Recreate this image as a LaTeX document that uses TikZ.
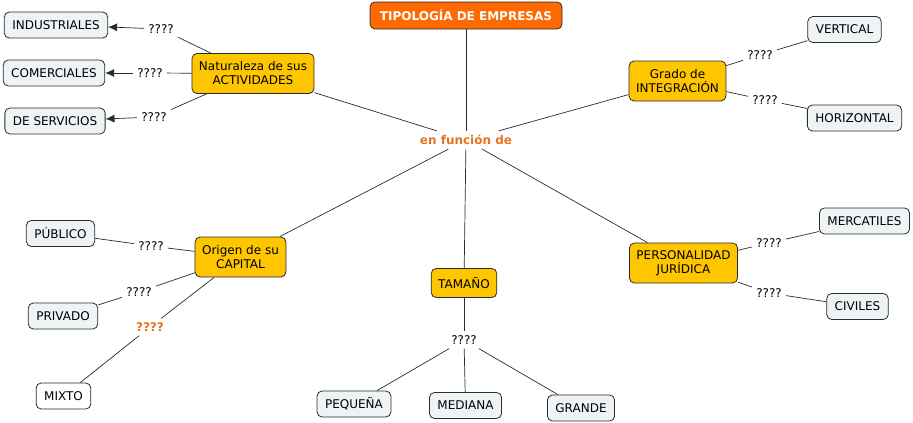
\documentclass[tikz,border=0pt]{standalone}
\usepackage{fontspec}
\setmainfont{DejaVu Sans}
\usetikzlibrary{arrows.meta}
\definecolor{cmorange}{HTML}{FF6A00}
\definecolor{cmgold}{HTML}{FFC600}
\definecolor{cmleaf}{HTML}{EEF3F5}
\definecolor{cmtext}{HTML}{E8731E}
\definecolor{cmedge}{HTML}{2B2B2B}

\tikzset{
  cmfont/.style={font=\fontsize{12}{14}\selectfont},
  topbox/.style={draw=cmedge, line width=0.8pt, fill=cmorange, rounded corners=5pt, text=white, font=\fontsize{12}{14}\selectfont\bfseries, minimum width=192pt, minimum height=27pt, inner sep=2pt},
  conbox/.style={draw=cmedge, line width=0.8pt, fill=cmgold, rounded corners=5pt, cmfont, align=center, inner xsep=7pt, inner ysep=3pt, minimum height=29pt},
  twoline/.style={minimum height=40pt},
  leafbox/.style={draw=cmedge, line width=0.8pt, fill=cmleaf, rounded corners=5pt, cmfont, inner xsep=8pt, minimum height=26pt},
  linkword/.style={cmfont, inner sep=4pt},
  hotword/.style={font=\fontsize{12}{14}\selectfont\bfseries, text=cmtext, inner sep=4pt},
  link/.style={draw=cmedge, line width=0.7pt},
  linkarrow/.style={link, -{Latex[length=9pt, width=8pt]}},
}

\begin{document}
\begin{tikzpicture}[x=1pt, y=-1pt]
  \useasboundingbox (0,0) rectangle (913,423);

  % central concept
  \node[topbox] (tipo) at (466,15.5) {TIPOLOGÍA DE EMPRESAS};
  \node[hotword] (funcion) at (466,140) {en función de};

  % criteria
  \node[conbox, twoline] (natur) at (253,73.5) {Naturaleza de sus\\ACTIVIDADES};
  \node[conbox, twoline] (integ) at (677.5,81) {Grado de\\INTEGRACIÓN};
  \node[conbox, twoline] (origen) at (240.5,257) {Origen de su\\CAPITAL};
  \node[conbox] (tamano) at (464,283) {TAMAÑO};
  \node[conbox, twoline] (perso) at (683.5,263) {PERSONALIDAD\\JURÍDICA};

  % leaves
  \node[leafbox] (indus) at (56,25) {INDUSTRIALES};
  \node[leafbox] (comer) at (54,73) {COMERCIALES};
  \node[leafbox] (servi) at (55,121) {DE SERVICIOS};
  \node[leafbox] (verti) at (844.5,29.5) {VERTICAL};
  \node[leafbox] (horiz) at (854.5,118) {HORIZONTAL};
  \node[leafbox] (publi) at (60.5,233.5) {PÚBLICO};
  \node[leafbox] (priva) at (63,316) {PRIVADO};
  \node[leafbox, fill=white] (mixto) at (63.5,396) {MIXTO};
  \node[leafbox] (peque) at (354,404) {PEQUEÑA};
  \node[leafbox] (media) at (465.5,405.5) {MEDIANA};
  \node[leafbox] (grande) at (581,408) {GRANDE};
  \node[leafbox] (merca) at (864.5,221) {MERCATILES};
  \node[leafbox] (civil) at (857.5,306.5) {CIVILES};

  % linking words
  \node[linkword] (lindus) at (161,29) {????};
  \node[linkword] (lcomer) at (150,73) {????};
  \node[linkword] (lservi) at (154,117) {????};
  \node[linkword] (lverti) at (760,55) {????};
  \node[linkword] (lhoriz) at (765,100) {????};
  \node[linkword] (lpubli) at (151,246) {????};
  \node[linkword] (lpriva) at (139,292) {????};
  \node[hotword] (lmixto) at (150,327) {????};
  \node[linkword] (ltamano) at (464,340) {????};
  \node[linkword] (lmerca) at (769,243) {????};
  \node[linkword] (lcivil) at (769,293) {????};

  % connectors
  \draw[link] (tipo) -- (funcion);
  \foreach \c in {natur, integ, origen, tamano, perso}
    \draw[link] (funcion) -- (\c);

  \draw[link] (natur) -- (lindus);
  \draw[link] (natur) -- (lcomer);
  \draw[link] (natur) -- (lservi);
  \draw[linkarrow] (lindus) -- (indus);
  \draw[linkarrow] (lcomer) -- (comer);
  \draw[linkarrow] (lservi) -- (servi);

  \draw[link] (integ) -- (lverti) -- (verti);
  \draw[link] (integ) -- (lhoriz) -- (horiz);

  \draw[link] (origen) -- (lpubli) -- (publi);
  \draw[link] (origen) -- (lpriva) -- (priva);
  \draw[link] (origen) -- (lmixto) -- (mixto);

  \draw[link] (tamano) -- (ltamano);
  \foreach \c in {peque, media, grande}
    \draw[link] (ltamano) -- (\c);

  \draw[link] (perso) -- (lmerca) -- (merca);
  \draw[link] (perso) -- (lcivil) -- (civil);
\end{tikzpicture}
\end{document}
